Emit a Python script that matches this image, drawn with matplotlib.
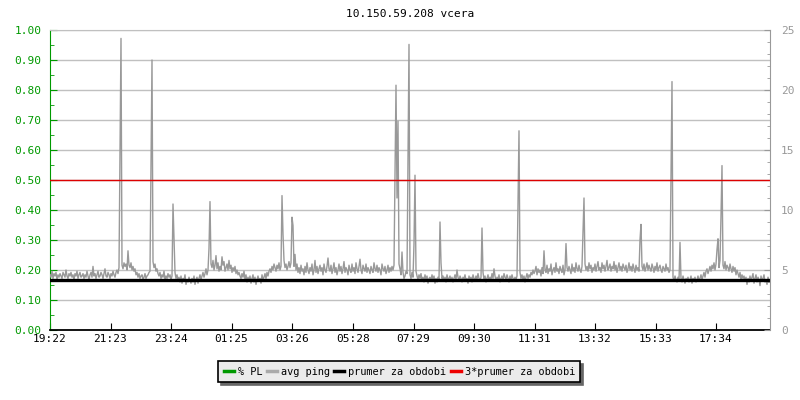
import matplotlib
matplotlib.use('Agg')
import matplotlib.pyplot as plt
from matplotlib.lines import Line2D

plt.rcParams['font.family'] = ['DejaVu Sans Mono']

title = '10.150.59.208 vcera'
time_labels = ['19:22', '21:23', '23:24', '01:25', '03:26', '05:28',
               '07:29', '09:30', '11:31', '13:32', '15:33', '17:34']
step_min = 2  # one sample every 2 minutes, 24 h total

# avg ping [ms], right axis
avg_ping = [
    4.6, 4.4, 4.9, 4.3, 4.7, 4.5, 4.8, 4.2, 4.6, 4.4, 4.7, 4.5, 4.3, 4.8, 4.6, 4.4, 5.0, 4.5, 4.3, 4.7,
    4.5, 4.8, 4.4, 4.6, 4.2, 4.7, 4.5, 4.9, 4.3, 4.6, 4.8, 4.4, 4.5, 4.7, 4.3, 4.6, 4.4, 4.9, 4.5, 4.2,
    4.6, 4.8, 4.4, 5.3, 4.5, 4.7, 4.3, 4.6, 4.9, 4.4, 4.5, 4.8, 4.6, 4.3, 4.7, 5.1, 4.5, 4.4, 4.8, 4.6,
    4.3, 4.7, 4.5, 4.9, 4.6, 4.4, 4.8, 5.0, 4.7, 5.2, 14.6, 24.3, 5.4, 5.1, 5.6, 5.3, 5.5, 5.0, 6.6, 5.4,
    5.2, 5.6, 5.0, 5.3, 4.9, 5.1, 4.6, 4.8, 4.4, 4.7, 4.3, 4.5, 4.6, 4.2, 4.4, 4.7, 4.3, 4.5, 4.6, 4.8,
    4.9, 13.5, 22.5, 5.7, 5.2, 5.5, 4.9, 5.1, 4.7, 4.5, 4.8, 4.3, 4.6, 4.4, 4.9, 4.2, 4.5, 4.3, 4.7, 4.4,
    4.6, 4.2, 4.5, 10.5, 7.5, 4.8, 4.3, 4.6, 4.1, 4.4, 4.0, 4.5, 3.9, 4.3, 4.1, 4.6, 3.8, 4.2, 4.0, 4.4,
    4.1, 3.9, 4.3, 4.0, 4.5, 3.8, 4.2, 4.4, 3.9, 4.3, 4.6, 4.2, 4.5, 4.8, 4.4, 4.7, 5.1, 4.6, 5.0, 6.8,
    10.7, 5.5, 5.2, 5.8, 5.0, 5.4, 6.2, 5.1, 5.6, 4.9, 5.3, 5.0, 6.1, 5.4, 5.7, 4.9, 5.2, 5.5, 5.0, 5.8,
    5.1, 5.4, 4.8, 5.2, 4.9, 5.3, 4.7, 5.0, 4.6, 4.8, 4.5, 4.3, 4.7, 4.4, 4.9, 4.2, 4.6, 4.0, 4.4, 4.1,
    4.5, 3.9, 4.3, 4.6, 4.0, 4.4, 3.8, 4.2, 4.5, 4.1, 4.3, 3.9, 4.6, 4.2, 4.4, 4.7, 4.3, 4.8, 4.5, 4.9,
    5.1, 4.8, 5.3, 5.0, 5.5, 5.2, 4.9, 5.4, 5.1, 5.6, 5.0, 5.3, 11.2, 8.0, 5.8, 5.2, 5.5, 5.0, 5.3, 5.7,
    5.2, 5.6, 9.4, 8.7, 5.3, 6.3, 5.0, 5.5, 4.8, 5.2, 4.7, 5.4, 4.9, 5.1, 4.6, 5.3, 4.8, 5.6, 5.0, 4.7,
    5.2, 4.9, 5.5, 4.6, 5.0, 5.8, 4.8, 5.3, 4.7, 5.1, 5.4, 4.9, 5.2, 4.6, 5.5, 5.0, 4.8, 5.3, 6.0, 5.1,
    4.9, 5.4, 4.7, 5.1, 5.6, 4.8, 5.2, 4.6, 5.0, 5.5, 4.9, 5.3, 4.7, 5.1, 5.7, 4.8, 5.2, 5.0, 4.6, 5.4,
    5.0, 4.8, 5.5, 4.9, 5.2, 4.7, 5.6, 5.1, 4.8, 5.3, 5.9, 5.0, 4.7, 5.4, 5.1, 4.9, 5.5, 4.8, 5.2, 5.0,
    4.7, 5.3, 5.0, 4.8, 5.6, 5.1, 4.9, 5.4, 4.8, 5.2, 5.0, 4.6, 5.5, 5.1, 4.9, 5.3, 4.7, 5.0, 5.4, 4.8,
    5.2, 4.9, 5.3, 5.0, 5.4, 12.8, 20.4, 11.0, 17.4, 5.5, 5.1, 4.6, 6.5, 4.8, 4.3, 4.5, 4.9, 4.7, 14.3, 23.8,
    4.6, 4.3, 4.8, 4.4, 7.2, 12.9, 4.9, 4.5, 4.2, 4.6, 4.3, 4.7, 4.1, 4.4, 4.0, 4.6, 4.2, 4.5, 3.9, 4.3,
    4.4, 4.1, 4.6, 4.2, 4.5, 3.9, 4.3, 4.0, 4.4, 4.2, 9.0, 5.6, 4.3, 4.5, 4.1, 4.4, 4.0, 4.6, 4.2, 4.3,
    4.5, 4.1, 4.4, 4.0, 4.3, 4.6, 4.2, 5.0, 4.4, 4.1, 4.5, 4.3, 4.0, 4.4, 4.2, 4.6, 4.1, 4.3, 3.9, 4.5,
    4.2, 4.4, 4.0, 4.6, 4.3, 4.1, 4.5, 4.2, 4.7, 4.3, 4.1, 4.4, 8.5, 4.8, 4.2, 4.5, 4.0, 4.3, 4.6, 4.1,
    4.4, 4.2, 4.7, 4.3, 5.1, 4.5, 4.1, 4.4, 4.2, 4.6, 4.0, 4.3, 4.5, 4.1, 4.7, 4.4, 4.2, 4.6, 4.3, 4.0,
    4.5, 4.2, 4.6, 4.3, 4.1, 4.4, 4.2, 4.5, 10.5, 16.6, 4.8, 4.3, 4.6, 4.2, 4.5, 4.0, 4.4, 4.7, 4.3, 4.6,
    4.4, 4.8, 4.6, 5.0, 4.7, 4.9, 5.3, 4.6, 5.1, 4.8, 5.0, 4.5, 5.2, 4.7, 6.6, 5.0, 4.8, 5.4, 4.7, 5.1,
    4.9, 5.5, 4.6, 5.0, 5.2, 4.8, 5.6, 4.9, 5.1, 4.7, 5.3, 5.0, 4.8, 5.4, 4.6, 5.0, 7.2, 5.2, 4.9, 5.3,
    5.0, 4.7, 5.5, 4.9, 5.2, 4.8, 5.6, 5.1, 4.9, 5.4, 5.0, 4.8, 5.3, 8.0, 11.0, 5.5, 5.0, 5.3, 4.9, 5.6,
    5.1, 5.4, 4.8, 5.2, 5.0, 5.5, 4.9, 5.3, 5.7, 5.0, 5.2, 4.8, 5.6, 5.1, 5.4, 4.9, 5.3, 5.8, 5.0, 5.2,
    5.5, 4.9, 5.3, 5.1, 5.7, 5.0, 5.4, 4.8, 5.2, 5.6, 5.0, 5.3, 4.9, 5.5, 5.2, 5.0, 5.4, 4.8, 5.1, 5.6,
    5.0, 5.3, 4.9, 5.5, 5.1, 4.8, 5.4, 5.0, 5.2, 4.9, 7.5, 8.8, 5.3, 5.0, 5.5, 4.9, 5.2, 5.6, 5.0, 5.4,
    5.1, 4.9, 5.5, 5.2, 4.8, 5.3, 5.0, 5.6, 4.9, 5.2, 5.4, 5.0, 4.8, 5.3, 5.1, 4.9, 5.5, 5.0, 5.2, 4.8,
    5.0, 12.5, 20.7, 4.4, 4.1, 4.5, 4.2, 4.0, 4.4, 4.1, 7.3, 4.3, 4.0, 4.5, 4.2, 3.9, 4.3, 4.1, 4.4, 4.0,
    4.2, 4.5, 3.9, 4.3, 4.1, 4.4, 4.0, 4.2, 4.5, 4.1, 4.3, 4.6, 4.2, 4.5, 4.8, 4.4, 4.9, 5.1, 4.7, 5.0,
    5.3, 4.9, 5.4, 5.1, 5.6, 5.0, 5.5, 6.7, 7.6, 5.2, 5.8, 9.5, 13.7, 5.4, 5.1, 5.7, 5.0, 5.4, 5.2, 4.9,
    5.5, 5.1, 4.8, 5.3, 4.9, 5.2, 4.6, 5.0, 4.7, 4.4, 4.8, 4.2, 4.6, 4.3, 4.5, 4.1, 4.4, 3.8, 4.3, 4.0,
    4.5, 4.1, 4.4, 4.7, 3.9, 4.3, 4.6, 4.0, 4.4, 4.2, 3.7, 4.5, 4.1, 4.3, 4.6, 4.0, 4.2, 3.8, 4.4, 4.1,
]
prumer = 4.17          # mean over the period [ms]
prumer3 = 12.5         # 3 * mean

legend_labels = ['% PL', 'avg ping', 'prumer za obdobi', '3*prumer za obdobi']
legend_colors = ['#009900', '#aaaaaa', '#000000', '#ee0000']

t = [i * step_min for i in range(len(avg_ping))]

def minutes_after_start(lbl):
    h, m = map(int, lbl.split(':'))
    h0, m0 = map(int, time_labels[0].split(':'))
    return ((h * 60 + m) - (h0 * 60 + m0)) % 1440

tick_pos = [minutes_after_start(l) for l in time_labels]

fig = plt.figure(figsize=(8, 4), dpi=100)
ax = fig.add_axes([0.0625, 0.175, 0.9, 0.75])
ax2 = ax.twinx()

# left axis: % PL
ax.set_ylim(0, 1)
ax.set_xlim(0, 1440)
ax.set_yticks([i / 10 for i in range(11)])
ax.set_yticks([i / 20 for i in range(21)], minor=True)
ax.set_yticklabels(['%.2f' % (i / 10) for i in range(11)])
ax.grid(axis='y', color='#c0c0c0', linewidth=1)
ax.set_axisbelow(True)
ax.set_xticks(tick_pos)
ax.set_xticklabels(time_labels)
ax.tick_params(axis='y', which='both', direction='in', colors='#009900', labelcolor='#009900',
               labelsize=8, pad=6)
ax.tick_params(axis='y', which='major', length=5)
ax.tick_params(axis='y', which='minor', length=3)
ax.tick_params(axis='x', direction='in', length=5, labelsize=8, pad=3, colors='black')
ax.spines['left'].set_color('#009900')
ax.spines['bottom'].set_color('black')
ax.spines['bottom'].set_linewidth(1.3)
ax.spines['top'].set_color('#c0c0c0')
ax.spines['right'].set_visible(False)

# right axis: ping
ax2.set_ylim(0, 25)
ax2.set_yticks(range(0, 26, 5))
ax2.set_yticks(range(0, 26), minor=True)
ax2.plot(t, avg_ping, color='#999999', linewidth=1)
ax2.axhline(prumer, color='black', linewidth=2.4)
ax2.axhline(prumer3, color='#dd0000', linewidth=1.0)
ax2.tick_params(axis='y', which='both', direction='in', colors='#999999', labelcolor='#999999',
                labelsize=8, pad=8)
ax2.tick_params(axis='y', which='major', length=4)
ax2.tick_params(axis='y', which='minor', length=2)
ax2.spines['right'].set_color('#999999')
for s in ['left', 'top', 'bottom']:
    ax2.spines[s].set_visible(False)

fig.text(0.5125, 0.965, title, ha='center', va='center', fontsize=8)

handles = [Line2D([0], [0], color=c, linewidth=2.5) for c in legend_colors]
leg = fig.legend(handles, legend_labels, loc='center', bbox_to_anchor=(0.499, 0.071), ncol=4,
                 fontsize=7.4, frameon=True, fancybox=False, edgecolor='black',
                 facecolor='#ebebeb', framealpha=1,
                 shadow={'color': '#666666', 'alpha': 1},
                 handlelength=1.0, handletextpad=0.35, columnspacing=0.45,
                 borderpad=0.55, borderaxespad=0)
leg.get_frame().set_linewidth(1.2)

plt.savefig('out.png', dpi=100)
